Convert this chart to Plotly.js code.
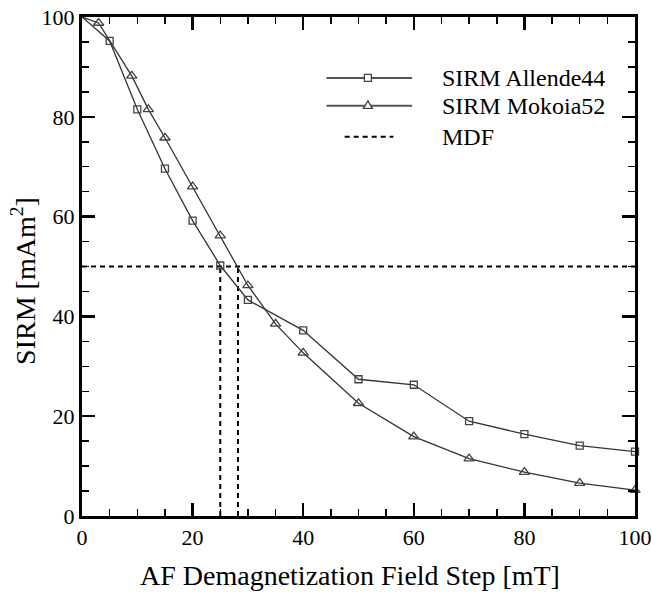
<!DOCTYPE html>
<html>
<head>
<meta charset="utf-8">
<script src="https://cdn.plot.ly/plotly-3.0.1.min.js"></script>
<style>
  html, body { margin: 0; padding: 0; background: #fff; }
  #chart { width: 652px; height: 593px; }
</style>
</head>
<body>
<div id="chart"></div>
<script>
// AF demagnetization of saturation IRM for two chondrite samples
const fieldAllende = [0, 5, 10, 15, 20, 25, 30, 40, 50, 60, 70, 80, 90, 100];
const sirmAllende  = [100, 95.2, 81.5, 69.6, 59.2, 50.2, 43.3, 37.2, 27.4, 26.3, 19.0, 16.4, 14.1, 12.9];

const fieldMokoia = [0, 3, 9, 12, 15, 20, 25, 30, 35, 40, 50, 60, 70, 80, 90, 100];
const sirmMokoia  = [100, 98.8, 88.2, 81.5, 75.8, 66.0, 56.2, 46.2, 38.5, 32.7, 22.6, 15.9, 11.5, 8.8, 6.6, 5.2];

// median destructive field: half of the initial SIRM, and the field where each curve reaches it
const mdfLevel  = 50;
const mdfFields = [25, 28.2];

const xTicks = [0, 20, 40, 60, 80, 100];
const yTicks = [0, 20, 40, 60, 80, 100];

const seriesNames = ['SIRM Allende44', 'SIRM Mokoia52', 'MDF'];

const FONT = 'Liberation Serif, Times New Roman, serif';
const LINE = '#333333';

// dashed MDF guide: horizontal level across the plot, then a drop line per sample
const mdfX = [0, 100, null];
const mdfY = [mdfLevel, mdfLevel, null];
mdfFields.forEach(f => { mdfX.push(f, f, null); mdfY.push(0, mdfLevel, null); });

// curves start from the normalised origin (0 mT, 100); symbols mark the measured steps
function curve(x, y, name) {
  return { x: x, y: y, mode: 'lines', name: name, showlegend: false,
           line: { color: LINE, width: 1.3 }, hoverinfo: 'skip' };
}
function steps(x, y, name, symbol, size) {
  return { x: x.slice(1), y: y.slice(1), mode: 'markers', name: name, showlegend: false,
           cliponaxis: false,
           marker: { symbol: symbol, size: size, color: '#444', line: { width: 1.3 } } };
}

const traces = [
  {
    x: mdfX, y: mdfY, mode: 'lines', name: seriesNames[2], showlegend: false,
    line: { color: '#000', width: 2, dash: '5px,4px' }, hoverinfo: 'skip'
  },
  curve(fieldAllende, sirmAllende, seriesNames[0]),
  curve(fieldMokoia, sirmMokoia, seriesNames[1]),
  steps(fieldAllende, sirmAllende, seriesNames[0], 'square-open', 7),
  steps(fieldMokoia, sirmMokoia, seriesNames[1], 'triangle-up-open', 9)
];

const axisBase = {
  range: [0, 100],
  showgrid: false, zeroline: false,
  showline: true, linecolor: '#000', linewidth: 3, mirror: 'ticks',
  ticks: 'inside', ticklen: 13, tickwidth: 2.5, tickcolor: '#000',
  minor: { dtick: 5, ticks: 'inside', ticklen: 7, tickwidth: 1.5, tickcolor: '#000' },
  tickfont: { family: FONT, size: 22, color: '#000' }
};

// hand-built key in the upper right of the plot area
const keyLineX = [44.2, 59.7];
const keyDashX = [47.5, 56.3];
const keyMarkX = 51.7;
const keyTextX = 64.8;
const keyRowY  = [87.8, 82.2, 76.0];

const shapes = [
  { type: 'line', xref: 'x', yref: 'y', x0: keyLineX[0], x1: keyLineX[1], y0: keyRowY[0], y1: keyRowY[0],
    line: { color: '#555', width: 2 } },
  { type: 'rect', xref: 'x', yref: 'y', xsizemode: 'pixel', ysizemode: 'pixel',
    xanchor: keyMarkX, yanchor: keyRowY[0], x0: -3.5, x1: 3.5, y0: -3.5, y1: 3.5,
    fillcolor: '#fff', line: { color: '#444', width: 1.3 } },
  { type: 'line', xref: 'x', yref: 'y', x0: keyLineX[0], x1: keyLineX[1], y0: keyRowY[1], y1: keyRowY[1],
    line: { color: '#555', width: 2 } },
  { type: 'path', xref: 'x', yref: 'y', xsizemode: 'pixel', ysizemode: 'pixel',
    xanchor: keyMarkX, yanchor: keyRowY[1], path: 'M-4.5,-2.5 L4.5,-2.5 L0,5 Z',
    fillcolor: '#fff', line: { color: '#444', width: 1.3 } },
  { type: 'line', xref: 'x', yref: 'y', x0: keyDashX[0], x1: keyDashX[1], y0: keyRowY[2], y1: keyRowY[2],
    line: { color: '#000', width: 2, dash: '5px,4px' } }
];

const annotations = seriesNames.map((name, i) => ({
  xref: 'x', yref: 'y', x: keyTextX, y: keyRowY[i], xanchor: 'left', yanchor: 'middle',
  text: name, showarrow: false, font: { family: FONT, size: 24, color: '#000' }
}));

annotations.push({
  xref: 'paper', yref: 'paper', x: 0.485, y: -0.12, xanchor: 'center', yanchor: 'middle',
  text: 'AF Demagnetization Field Step [mT]', showarrow: false,
  font: { family: FONT, size: 28, color: '#000' }
});
annotations.push({
  xref: 'paper', yref: 'paper', x: -0.105, y: 0.471, xanchor: 'center', yanchor: 'middle',
  text: 'SIRM [mAm<sup>2</sup>]', textangle: -90, showarrow: false,
  font: { family: FONT, size: 28, color: '#000' }
});

const layout = {
  width: 652, height: 593,
  margin: { l: 82, r: 17, t: 17, b: 77 },
  paper_bgcolor: '#fff', plot_bgcolor: '#fff',
  showlegend: false,
  xaxis: Object.assign({}, axisBase, { tickvals: xTicks, ticktext: xTicks.map(String) }),
  yaxis: Object.assign({}, axisBase, { tickvals: yTicks, ticktext: yTicks.map(String) }),
  shapes: shapes,
  annotations: annotations
};

Plotly.newPlot('chart', traces, layout, { displayModeBar: false, staticPlot: true });
</script>
</body>
</html>
